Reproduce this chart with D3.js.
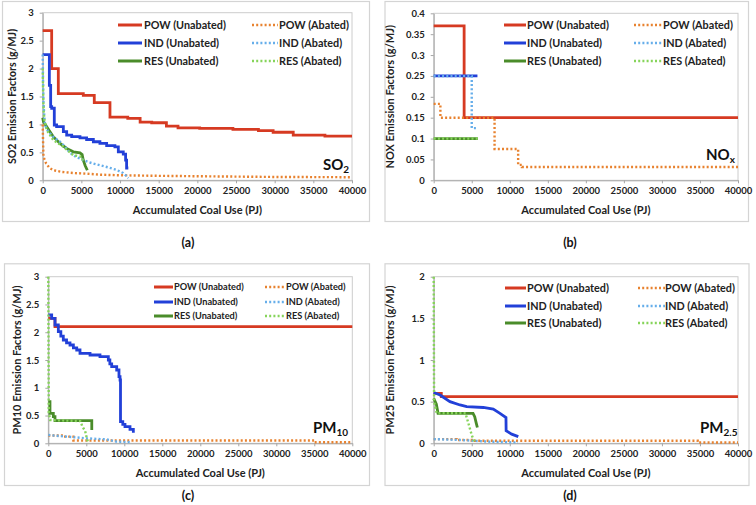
<!DOCTYPE html>
<html><head><meta charset="utf-8">
<script src="https://cdn.jsdelivr.net/npm/d3@7/dist/d3.min.js"></script>
<style>
html,body{margin:0;padding:0;background:#fff;}
svg{display:block;}
text{font-family:Lato,"Open Sans",sans-serif;}
</style></head>
<body>
<svg id="chart" width="756" height="505"></svg>
<script>
// ---------------- DATA ----------------
const seriesNames = ["POW (Unabated)","POW (Abated)","IND (Unabated)","IND (Abated)","RES (Unabated)","RES (Abated)"];
const xTicks = [0,5000,10000,15000,20000,25000,30000,35000,40000];
const so2Ticks = [0,0.5,1,1.5,2,2.5,3];
const noxTicks = [0,0.05,0.1,0.15,0.2,0.25,0.3,0.35,0.4];
const pm10Ticks = [0,0.5,1,1.5,2,2.5,3];
const pm25Ticks = [0,0.5,1,1.5,2];
const panelCaptions = ["(a)","(b)","(c)","(d)"];
const yTitles = ["SO2 Emission Factors (g/MJ)","NOX Emission Factors (g/MJ)","PM10 Emission Factors (g/MJ)","PM25 Emission Factors (g/MJ)"];
const xTitle = "Accumulated Coal Use (PJ)";

// SO2 (a)
const so2PowUn = [[0,2.68],[1160,2.0],[2020,1.55],[5250,1.52],[6670,1.39],[8700,1.13],[11000,1.11],[12600,1.04],[14100,1.03],[16000,0.97],[17500,0.94],[20300,0.93],[24600,0.91],[27900,0.89],[29800,0.86],[32400,0.81],[36500,0.79],[40000,0.79]];
const so2PowAb = [[0,1.0],[60,0.62],[100,0.42],[450,0.3],[900,0.22],[1400,0.18],[2500,0.15],[4000,0.13],[5500,0.12],[7500,0.1],[10000,0.09],[15000,0.08],[22000,0.07],[30000,0.06],[40000,0.055]];
const so2IndUn = [[0,2.25],[860,1.70],[1030,1.32],[1160,1.29],[1500,0.99],[1800,0.96],[2670,0.87],[3100,0.81],[3750,0.78],[4820,0.76],[5680,0.73],[6550,0.69],[7400,0.66],[8270,0.62],[9340,0.6],[9780,0.51],[10420,0.47],[10720,0.36],[10850,0.22],[11070,0.22]];
const so2IndAb = [[0,2.25],[40,1.8],[100,1.4],[200,1.15],[300,0.99],[600,0.9],[945,0.84],[1500,0.76],[2240,0.69],[2900,0.6],[3530,0.49],[4300,0.42],[5250,0.36],[6300,0.31],[7400,0.27],[8500,0.23],[9570,0.185],[10400,0.13],[10800,0.08],[11070,0.04]];
const so2ResUn = [[0,1.12],[100,1.05],[520,0.96],[1370,0.78],[2240,0.66],[3100,0.57],[3960,0.51],[4820,0.49],[5100,0.46],[5250,0.36],[5500,0.26],[5770,0.18]];
const so2ResAb = [[0,2.0],[50,1.6],[100,1.3],[200,1.1],[520,0.9],[1370,0.72],[2670,0.6],[3960,0.45],[5040,0.42],[5150,0.37],[5300,0.36]];

// NOx (b)
const noxPowUn = [[0,0.37],[4000,0.15],[40000,0.15]];
const noxPowAb = [[0,0.183],[880,0.15],[8000,0.075],[11100,0.037],[11600,0.032],[40000,0.032]];
const noxIndUn = [[0,0.25],[5750,0.25]];
const noxIndAb = [[0,0.25],[5000,0.125],[5700,0.125]];
const noxResUn = [[0,0.1],[5800,0.1]];
const noxResAb = [[0,0.1],[5800,0.1]];

// PM10 (c)
const pm10PowUn = [[0,2.25],[880,2.1],[40000,2.1]];
const pm10PowAb = [[0,0.14],[2000,0.12],[3300,0.05],[35000,0.02],[40000,0.02]];
const pm10IndUn = [[0,2.31],[445,2.25],[880,2.13],[1320,2.01],[1650,1.93],[1975,1.86],[2400,1.81],[2855,1.77],[3300,1.72],[3740,1.68],[4170,1.62],[5490,1.59],[6800,1.56],[7900,1.5],[8100,1.43],[8340,1.38],[9000,1.32],[9300,1.2],[9440,1.14],[9500,0.39],[9800,0.34],[10090,0.3],[10750,0.25],[11190,0.19]];
const pm10IndAb = [[0,0.15],[1500,0.13],[3290,0.11],[5000,0.09],[7680,0.07],[9000,0.03],[10970,0.02]];
const pm10ResUn = [[0,0.75],[220,0.54],[660,0.48],[880,0.41],[5700,0.41],[5720,0.24]];
const pm10ResAb = [[0,3.0],[60,0.55],[250,0.42],[4200,0.4],[4500,0.3],[4850,0.22],[5050,0.1],[5200,0.03]];

// PM2.5 (d)
const pm25PowUn = [[0,0.6],[1000,0.56],[40000,0.56]];
const pm25PowAb = [[0,0.05],[3000,0.04],[5000,0.03],[34700,0.01],[40000,0.01]];
const pm25IndUn = [[0,0.61],[830,0.58],[2140,0.5],[3460,0.46],[4340,0.44],[6520,0.43],[7830,0.41],[8710,0.36],[9500,0.31],[9520,0.15],[10250,0.11],[11120,0.08]];
const pm25IndAb = [[0,0.05],[3600,0.04],[7100,0.02],[11080,0.01]];
const pm25ResUn = [[0,0.54],[350,0.47],[570,0.36],[5170,0.36],[5390,0.32],[5600,0.24],[5740,0.19]];
const pm25ResAb = [[0,2.0],[50,0.5],[400,0.36],[4200,0.36],[4300,0.32],[4500,0.26],[4750,0.18],[5000,0.1],[5200,0.05],[5400,0.01]];

// ---------------- DRAWING ----------------
const svg = d3.select("#chart");
const colors = ["#d63a22","#e8822f","#2240d8","#66aeea","#4a8c2a","#86d45a"];
const dashed = [false,true,false,true,false,true];
const drawOrder = [0,2,4,1,3,5];

const panels = [
  {box:[2,1,367,220], px:[42.7,352], py:[180.3,12.7], yTicks:so2Ticks, ymax:3,
   series:[so2PowUn,so2PowAb,so2IndUn,so2IndAb,so2ResUn,so2ResAb],
   step:[true,false,true,false,false,false],
   leg:{l:[118,142,144], r:[252,278,279], rows:[25,43,61], fs:10.8},
   ytx:12.7, gas:["SO","2"], gasPos:[323,170], cap:[188,247]},
  {box:[384.5,1,363.5,220], px:[433.7,738], py:[180.3,13.3], yTicks:noxTicks, ymax:0.4,
   series:[noxPowUn,noxPowAb,noxIndUn,noxIndAb,noxResUn,noxResAb],
   step:[true,true,true,true,true,true],
   leg:{l:[504,526,527], r:[634,663,663], rows:[25,43,61], fs:10.8},
   ytx:389.7, gas:["NO","x"], gasPos:[706,160], cap:[570,247]},
  {box:[4,263.3,365,221.7], px:[48.3,352.3], py:[443.3,276.7], yTicks:pm10Ticks, ymax:3,
   series:[pm10PowUn,pm10PowAb,pm10IndUn,pm10IndAb,pm10ResUn,pm10ResAb],
   step:[true,true,true,false,true,false],
   leg:{l:[154,173,174], r:[265,286,286], rows:[287,302,316], fs:9.2},
   ytx:16.7, gas:["PM","10"], gasPos:[313,433], cap:[188,500]},
  {box:[384.5,263.3,364,221.7], px:[433.7,738], py:[443.3,276.7], yTicks:pm25Ticks, ymax:2,
   series:[pm25PowUn,pm25PowAb,pm25IndUn,pm25IndAb,pm25ResUn,pm25ResAb],
   step:[true,true,false,false,false,false],
   leg:{l:[505,526,527], r:[638,665,665], rows:[288,306,323], fs:10.8},
   ytx:390.3, gas:["PM","2.5"], gasPos:[700,433], cap:[570,500]}
];

panels.forEach((p,pi)=>{
  const g = svg.append("g");
  g.append("rect").attr("x",p.box[0]+0.5).attr("y",p.box[1]+0.5)
    .attr("width",p.box[2]).attr("height",p.box[3])
    .attr("fill","#fff").attr("stroke","#d4d4d4").attr("stroke-width",1.2);

  const x = d3.scaleLinear().domain([0,40000]).range(p.px);
  const y = d3.scaleLinear().domain([0,p.ymax]).range(p.py);

  g.append("rect").attr("x",p.px[0]).attr("y",p.py[1]).attr("width",p.px[1]-p.px[0]).attr("height",p.py[0]-p.py[1])
    .attr("fill","none").attr("stroke","#cccccc").attr("stroke-width",1);

  const xa = g.append("g").attr("transform",`translate(0,${p.py[0]})`)
    .call(d3.axisBottom(x).tickValues(xTicks).tickSize(3).tickSizeOuter(0).tickPadding(4).tickFormat(d=>String(d)));
  const ya = g.append("g").attr("transform",`translate(${p.px[0]},0)`)
    .call(d3.axisLeft(y).tickValues(p.yTicks).tickSize(3).tickSizeOuter(0).tickPadding(6).tickFormat(d=>String(d)));
  [xa,ya].forEach(a=>{
    a.selectAll("path,line").attr("stroke","#a6a6a6");
    a.selectAll("text").attr("fill","#222").attr("font-size",9.5).attr("font-weight",700)
      .attr("font-family","Lato,sans-serif");
  });

  drawOrder.forEach(si=>{
    const line = d3.line().x(d=>x(d[0])).y(d=>y(d[1]))
      .curve(p.step[si]?d3.curveStepAfter:d3.curveLinear);
    g.append("path").datum(p.series[si]).attr("d",line).attr("fill","none")
      .attr("stroke",colors[si])
      .attr("stroke-width",dashed[si]?2.4:2.8)
      .attr("stroke-dasharray",dashed[si]?"2,2.2":null)
      .attr("stroke-linejoin","miter");
  });

  seriesNames.forEach((n,si)=>{
    const col = si%2===0 ? p.leg.l : p.leg.r;
    const row = p.leg.rows[Math.floor(si/2)];
    g.append("line").attr("x1",col[0]).attr("x2",col[1]).attr("y1",row).attr("y2",row)
      .attr("stroke",colors[si]).attr("stroke-width",dashed[si]?2.4:3)
      .attr("stroke-dasharray",dashed[si]?"2,2.2":null);
    g.append("text").attr("x",col[2]).attr("y",row).attr("dy","0.35em")
      .attr("font-size",p.leg.fs).attr("font-weight",700).attr("fill","#222").text(n);
  });

  g.append("text").attr("x",(p.px[0]+p.px[1])/2).attr("y",p.py[0]+34)
    .attr("text-anchor","middle").attr("font-size",11).attr("font-weight",700).attr("fill","#222").text(xTitle);
  g.append("text").attr("transform",`translate(${p.ytx},${(p.py[0]+p.py[1])/2}) rotate(-90)`)
    .attr("dy","0.35em").attr("text-anchor","middle").attr("font-size",pi===0?10.6:11).attr("font-weight",700).attr("fill","#222").text(yTitles[pi]);

  const gt = g.append("text").attr("x",p.gasPos[0]).attr("y",p.gasPos[1])
    .attr("font-family","'Liberation Serif','Times New Roman',serif").attr("font-weight",700)
    .attr("font-size",15).attr("fill","#111");
  gt.append("tspan").text(p.gas[0]);
  gt.append("tspan").attr("dy",3).attr("font-size",10).text(p.gas[1]);

  svg.append("text").attr("x",p.cap[0]).attr("y",p.cap[1]).attr("text-anchor","middle")
    .attr("font-family","'Liberation Serif','Times New Roman',serif").attr("font-weight",700)
    .attr("font-size",12.5).attr("fill","#111").text(panelCaptions[pi]);
});
</script>
</body></html>
